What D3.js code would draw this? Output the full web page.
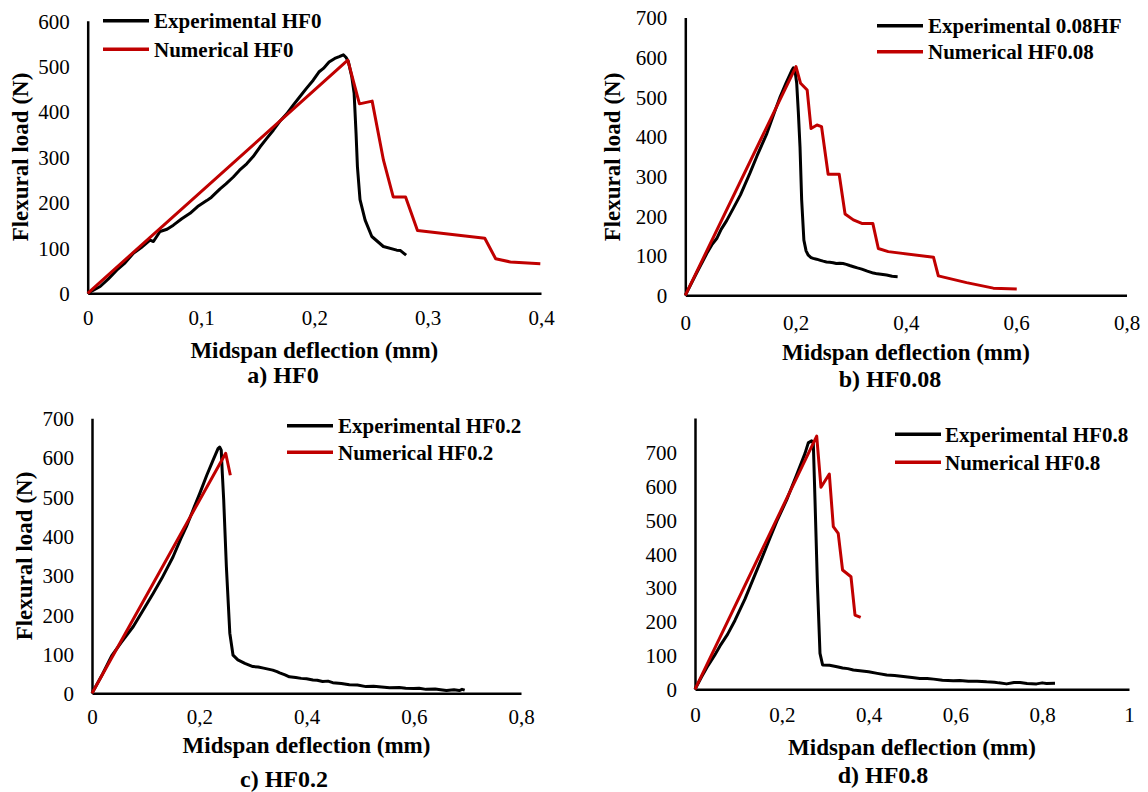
<!DOCTYPE html>
<html><head><meta charset="utf-8">
<script src="https://cdn.jsdelivr.net/npm/d3@7"></script>
<style>body{margin:0;background:#fff}svg{display:block}text{font-family:"Liberation Serif","Times New Roman",serif;fill:#000}</style>
</head><body><svg id="c" width="1148" height="792"></svg>
<script>
// ---------- DATA ----------
const expHF0 = [[0,0],[0.005,7],[0.011,15],[0.018,31],[0.0256,51],[0.033,67],[0.0403,88],[0.047,100],[0.055,117],[0.058,114],[0.0638,136],[0.07,141],[0.0756,150],[0.083,164],[0.0903,176],[0.097,191],[0.105,204],[0.109,211],[0.1168,230],[0.122,241],[0.1285,256],[0.134,271],[0.1403,285],[0.146,301],[0.152,322],[0.158,341],[0.1638,359],[0.17,380],[0.1756,395],[0.181,413],[0.187,432],[0.193,451],[0.199,469],[0.204,487],[0.208,495],[0.213,509],[0.218,517],[0.222,521],[0.2256,525],[0.228,519],[0.23,510],[0.233,477],[0.2351,440],[0.2368,352],[0.238,279],[0.2403,206],[0.2448,161],[0.2507,125],[0.2609,103],[0.2727,95],[0.276,94],[0.279,88],[0.281,84]];
const numHF0 = [[0,0],[0.2295,513],[0.2398,417],[0.251,423],[0.261,293],[0.2696,212],[0.2805,212],[0.291,138],[0.3504,121],[0.36,76],[0.373,69],[0.3994,65]];

const expHF008 = [[0,0],[0.02,55],[0.04,108],[0.048,127],[0.057,143],[0.065,166],[0.075,188],[0.087,219],[0.1,253],[0.117,307],[0.13,351],[0.148,408],[0.16,455],[0.172,500],[0.183,536],[0.193,566],[0.196,573],[0.199,565],[0.202,534],[0.205,460],[0.208,374],[0.211,240],[0.215,139],[0.219,112],[0.223,101],[0.228,95],[0.232,93],[0.238,91],[0.245,88],[0.25,86],[0.256,84],[0.262,83],[0.268,82],[0.274,80],[0.28,81],[0.286,80],[0.292,78],[0.298,75],[0.305,72],[0.312,69],[0.32,66],[0.33,61],[0.341,56],[0.348,54],[0.355,53],[0.365,51],[0.375,48],[0.385,47]];
const numHF008 = [[0,0],[0.2007,576],[0.209,534],[0.221,517],[0.228,420],[0.2388,429],[0.247,425],[0.259,305],[0.279,305],[0.2897,205],[0.3047,190],[0.32,181],[0.34,181],[0.35,118],[0.368,110],[0.45,96],[0.4588,49],[0.51,32],[0.5585,18],[0.601,16]];

const expHF02 = [[0,0],[0.02,50],[0.0366,95],[0.055,130],[0.077,170],[0.095,211],[0.114,254],[0.13,292],[0.151,347],[0.165,392],[0.176,424],[0.19,472],[0.201,509],[0.214,555],[0.226,594],[0.235,623],[0.238,627],[0.241,619],[0.243,560],[0.2456,492],[0.2506,322],[0.257,153],[0.263,97],[0.272,85],[0.285,76],[0.3,68],[0.31,67],[0.32,64],[0.337,59],[0.345,55],[0.35,52],[0.36,47],[0.368,42],[0.38,40],[0.39,38],[0.4,37],[0.412,34],[0.42,33],[0.43,30],[0.44,31],[0.449,27],[0.465,25],[0.48,22],[0.495,21],[0.511,17],[0.525,18],[0.54,16],[0.555,14],[0.573,15],[0.585,13],[0.6,12],[0.61,13],[0.623,10],[0.64,11],[0.65,9],[0.661,7],[0.675,9],[0.685,7],[0.69,10],[0.695,8]];
const numHF02 = [[0,0],[0.2493,611],[0.258,555]];

const expHF08 = [[0,0],[0.015,36],[0.03,70],[0.045,100],[0.0576,128],[0.075,162],[0.092,203],[0.115,266],[0.134,325],[0.155,390],[0.173,447],[0.19,500],[0.211,558],[0.234,632],[0.2535,696],[0.261,727],[0.2688,733],[0.2726,726],[0.2765,558],[0.282,313],[0.288,106],[0.294,72],[0.31,71],[0.3187,69],[0.33,66],[0.34,63],[0.352,61],[0.3648,57],[0.38,55],[0.4,52],[0.42,47],[0.4417,42],[0.46,41],[0.48,38],[0.5,35],[0.518,32],[0.535,32],[0.55,30],[0.57,27],[0.595,25],[0.61,26],[0.63,24],[0.65,24],[0.672,22],[0.69,21],[0.7,19],[0.718,16],[0.735,20],[0.749,20],[0.765,17],[0.787,16],[0.8,19],[0.81,17],[0.8295,18]];
const numHF08 = [[0,0],[0.2804,747],[0.2903,596],[0.3095,635],[0.3187,480],[0.330,460],[0.340,352],[0.3594,332],[0.3687,219],[0.3817,212]];

const xTicksA = [0,0.1,0.2,0.3,0.4];
const xTicksB = [0,0.2,0.4,0.6,0.8];
const xTicksD = [0,0.2,0.4,0.6,0.8,1];
const yTicks600 = [0,100,200,300,400,500,600];
const yTicks700 = [0,100,200,300,400,500,600,700];

const legendA = ["Experimental HF0","Numerical HF0"];
const legendB = ["Experimental 0.08HF","Numerical HF0.08"];
const legendC = ["Experimental HF0.2","Numerical HF0.2"];
const legendD = ["Experimental HF0.8","Numerical HF0.8"];
const captions = ["a) HF0","b) HF0.08","c) HF0.2","d) HF0.8"];
const xTitle = "Midspan deflection (mm)";
const yTitle = "Flexural load (N)";

// ---------- LAYOUT ----------
const RED = "#c00000";
const svg = d3.select("#c");
const fmt = v => String(v).replace(".", ",");

const panels = [
  {exp:expHF0, num:numHF0, xd:[0,0.4], yd:[0,600], xt:xTicksA, yt:yTicks600, L:87.7, R:541, B:293.3, T:20.7,
   leg:legendA, lg:{x1:103,x2:149,y:[20.7,49.3],tx:154}, cap:captions[0], capX:283, tickY:318, titleY:350, capY:375, yTitle:{x:20,y:157}},
  {exp:expHF008, num:numHF008, xd:[0,0.8], yd:[0,700], xt:xTicksB, yt:yTicks700, L:685.3, R:1126.5, B:295.3, T:17.4,
   leg:legendB, lg:{x1:877,x2:923,y:[25.7,51.7],tx:928}, cap:captions[1], capX:890, tickY:323, titleY:352, capY:379, yTitle:{x:612,y:157}},
  {exp:expHF02, num:numHF02, xd:[0,0.8], yd:[0,700], xt:xTicksB, yt:yTicks700, L:92, R:521, B:693.3, T:418.3,
   leg:legendC, lg:{x1:287,x2:333,y:[425.7,452.3],tx:338}, cap:captions[2], capX:284, tickY:717, titleY:745, capY:779, yTitle:{x:24,y:556}},
  {exp:expHF08, num:numHF08, xd:[0,1], yd:[0,800], xt:xTicksD, yt:yTicks700, L:695, R:1129, B:689.3, T:418.1,
   leg:legendD, lg:{x1:895,x2:941,y:[434.3,462.3],tx:945}, cap:captions[3], capX:883, tickY:715, titleY:747, capY:775, yTitle:null}
];

panels.forEach(p => {
  const x = d3.scaleLinear().domain(p.xd).range([p.L, p.R]);
  const y = d3.scaleLinear().domain(p.yd).range([p.B, p.T]);
  const g = svg.append("g");

  // axes
  const xa = g.append("g").attr("transform", `translate(0,${p.B})`)
    .call(d3.axisBottom(x).tickValues(p.xt).tickSize(0).tickPadding(0).tickFormat(fmt));
  xa.select(".domain").attr("stroke","#000").attr("stroke-width",2.5);
  xa.selectAll("text").attr("y", p.tickY - p.B).attr("dy","0.35em")
    .style("font-size","21px").style("font-family","Liberation Serif");
  const ya = g.append("g").attr("transform", `translate(${p.L},0)`)
    .call(d3.axisLeft(y).tickValues(p.yt).tickSize(0).tickPadding(18).tickFormat(d3.format("d")));
  ya.select(".domain").attr("stroke","#000").attr("stroke-width",2.5);
  ya.selectAll("text").attr("dy","0.35em").style("font-size","21px").style("font-family","Liberation Serif");

  // lines
  const line = d3.line().x(d => x(d[0])).y(d => y(d[1]));
  g.append("path").datum(p.exp).attr("d", line).attr("fill","none").attr("stroke","#000")
    .attr("stroke-width",3).attr("stroke-linejoin","round");
  g.append("path").datum(p.num).attr("d", line).attr("fill","none").attr("stroke",RED)
    .attr("stroke-width",3).attr("stroke-linejoin","round");

  // legend
  [["#000",0],[RED,1]].forEach(([c,i]) => {
    g.append("line").attr("x1",p.lg.x1).attr("x2",p.lg.x2).attr("y1",p.lg.y[i]).attr("y2",p.lg.y[i])
      .attr("stroke",c).attr("stroke-width",3.5);
    g.append("text").attr("x",p.lg.tx).attr("y",p.lg.y[i]).attr("dy","0.35em")
      .style("font-size","21px").style("font-weight","bold").text(p.leg[i]);
  });

  // titles
  g.append("text").attr("x",(p.L+p.R)/2).attr("y",p.titleY).attr("dy","0.35em").attr("text-anchor","middle")
    .style("font-size","23px").style("font-weight","bold").text(xTitle);
  g.append("text").attr("x",p.capX).attr("y",p.capY).attr("dy","0.35em").attr("text-anchor","middle")
    .style("font-size","24px").style("font-weight","bold").text(p.cap);
  if (p.yTitle) {
    g.append("text").attr("transform",`translate(${p.yTitle.x},${p.yTitle.y}) rotate(-90)`)
      .attr("dy","0.35em").attr("text-anchor","middle")
      .style("font-size","23px").style("font-weight","bold").text(yTitle);
  }
});
</script></body></html>
